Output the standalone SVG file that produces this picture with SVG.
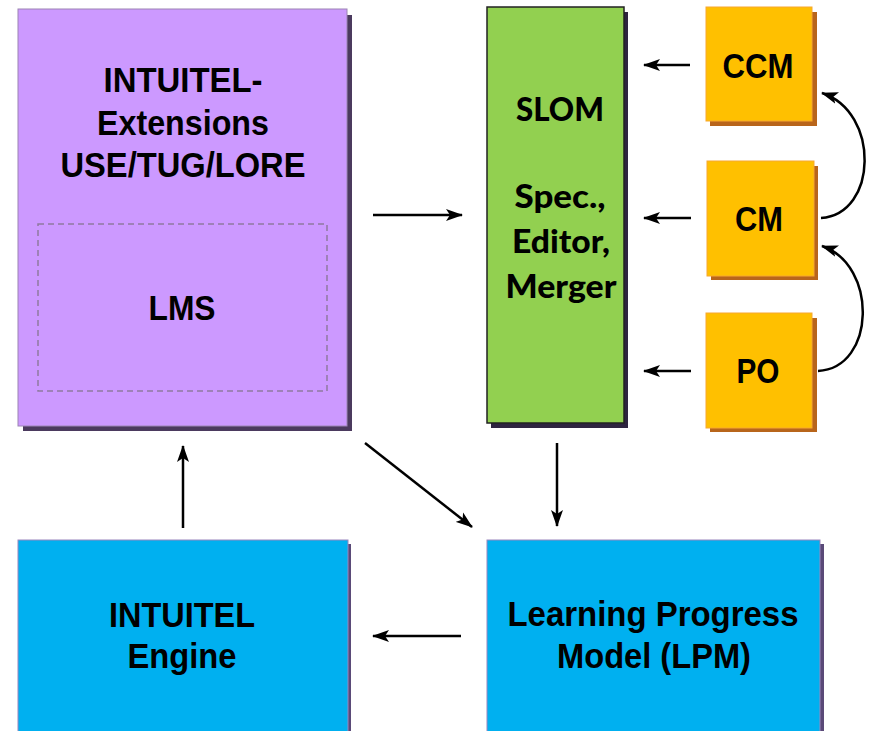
<svg xmlns="http://www.w3.org/2000/svg" width="871" height="731" viewBox="0 0 871 731">
<defs>
<marker id="ah" markerUnits="userSpaceOnUse" markerWidth="17" markerHeight="13" refX="16" refY="6.5" orient="auto">
<path d="M0,0.5 L17,6.5 L0,12.5 L4,6.5 z" fill="#000"/>
</marker>
<style>
.t{font-family:"Liberation Sans",Arial,sans-serif;font-weight:bold;font-size:35px;fill:#000;text-anchor:middle}
.c{font-family:Lato,"Open Sans",sans-serif;font-weight:900;font-size:32px;fill:#000;text-anchor:middle}
.e{fill:none;stroke:#000;stroke-width:2.5;marker-end:url(#ah)}
</style>
</defs>
<rect width="871" height="731" fill="#fff"/>
<g id="ext">
<rect x="23" y="15" width="329" height="416" fill="#4B3A5E"/>
<rect x="18" y="9" width="329" height="417" fill="#CC99FF" stroke="#9C84B4" stroke-width="1"/>
<rect x="38" y="224" width="289" height="167" fill="none" stroke="#8E7AA0" stroke-width="1.5" stroke-dasharray="6,4"/>
<text class="t" x="183" y="92" textLength="159" lengthAdjust="spacingAndGlyphs">INTUITEL-</text>
<text class="t" x="183" y="135" textLength="172" lengthAdjust="spacingAndGlyphs">Extensions</text>
<text class="t" x="183" y="177" textLength="245" lengthAdjust="spacingAndGlyphs">USE/TUG/LORE</text>
<text class="t" x="182" y="320" textLength="67" lengthAdjust="spacingAndGlyphs">LMS</text>
</g>
<g id="slom">
<rect x="491" y="12" width="137" height="416" fill="#2E2440"/>
<rect x="487" y="7" width="137" height="416" fill="#92D050" stroke="#222" stroke-width="1.5"/>
<text class="c" x="560" y="121" textLength="88" lengthAdjust="spacingAndGlyphs">SLOM</text>
<text class="c" x="560" y="208" textLength="91" lengthAdjust="spacingAndGlyphs">Spec.,</text>
<text class="c" x="561" y="253" textLength="98" lengthAdjust="spacingAndGlyphs">Editor,</text>
<text class="c" x="561" y="298" textLength="111" lengthAdjust="spacingAndGlyphs">Merger</text>
</g>
<g id="ccm">
<rect x="710" y="12" width="107" height="114" fill="#B8651B"/>
<rect x="706" y="7" width="106" height="114" fill="#FFC000" stroke="#F7A830" stroke-width="1"/>
<text class="t" x="758" y="78" textLength="71" lengthAdjust="spacingAndGlyphs">CCM</text>
</g>
<g id="cm">
<rect x="711" y="166" width="107" height="114" fill="#B8651B"/>
<rect x="707" y="161" width="107" height="115" fill="#FFC000" stroke="#F7A830" stroke-width="1"/>
<text class="t" x="759" y="231" textLength="48" lengthAdjust="spacingAndGlyphs">CM</text>
</g>
<g id="po">
<rect x="710" y="318" width="107" height="114" fill="#B8651B"/>
<rect x="706" y="313" width="106" height="115" fill="#FFC000" stroke="#F7A830" stroke-width="1"/>
<text class="t" x="758" y="383" textLength="43" lengthAdjust="spacingAndGlyphs">PO</text>
</g>
<g id="engine">
<rect x="21" y="544" width="330" height="200" fill="#5A4A78"/>
<rect x="18" y="540" width="330" height="200" fill="#00B0F0" stroke="#9A86BE" stroke-width="1"/>
<text class="t" x="182" y="627" textLength="146" lengthAdjust="spacingAndGlyphs">INTUITEL</text>
<text class="t" x="182" y="668" textLength="109" lengthAdjust="spacingAndGlyphs">Engine</text>
</g>
<g id="lpm">
<rect x="490" y="544" width="334" height="200" fill="#5A4A78"/>
<rect x="487" y="540" width="333" height="200" fill="#00B0F0" stroke="#9A86BE" stroke-width="1"/>
<text class="t" x="653" y="626" textLength="291" lengthAdjust="spacingAndGlyphs">Learning Progress</text>
<text class="t" x="654" y="668" textLength="194" lengthAdjust="spacingAndGlyphs">Model (LPM)</text>
</g>
<g id="connectors">
<line class="e" x1="690" y1="65" x2="644" y2="65"/>
<line class="e" x1="691" y1="218" x2="644" y2="218"/>
<line class="e" x1="691" y1="371" x2="644" y2="371"/>
<path class="e" d="M821,218 C878,214 880,112 822,93"/>
<path class="e" d="M818,371 C876,368 878,265 822,246"/>
<line class="e" x1="373" y1="215" x2="462" y2="215"/>
<line class="e" x1="557" y1="443" x2="557" y2="526"/>
<line class="e" x1="365" y1="443" x2="472" y2="527"/>
<line class="e" x1="183" y1="528" x2="183" y2="446"/>
<line class="e" x1="461" y1="636" x2="373" y2="636"/>
</g>
</svg>
